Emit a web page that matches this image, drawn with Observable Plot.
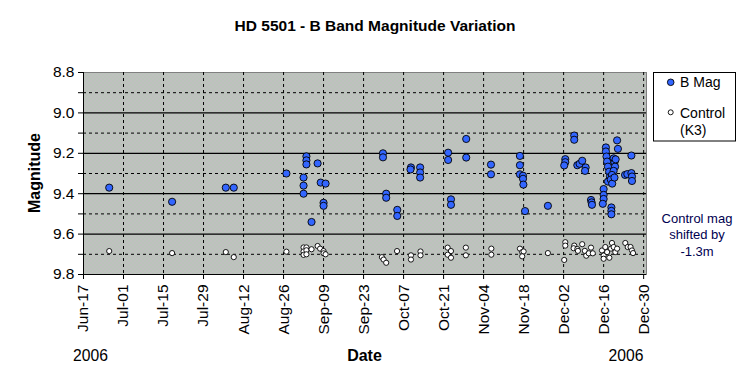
<!DOCTYPE html>
<html>
<head>
<meta charset="utf-8">
<script src="https://cdn.jsdelivr.net/npm/d3@7"></script>
<script src="https://cdn.jsdelivr.net/npm/@observablehq/plot@0.6"></script>
<style>
  html, body { margin: 0; padding: 0; background: white; }
  #chart { width: 750px; height: 384px; }
</style>
</head>
<body>
<div id="chart"></div>
<script>
// ---- Data ----
const titleText = "HD 5501 - B Band Magnitude Variation";
const xTicks = ["2006-06-17","2006-07-01","2006-07-15","2006-07-29","2006-08-12","2006-08-26","2006-09-09",
  "2006-09-23","2006-10-07","2006-10-21","2006-11-04","2006-11-18","2006-12-02","2006-12-16","2006-12-30"];
const xDomain = ["2006-06-17", "2006-12-31"];
const yTicks = [8.8, 8.9, 9.0, 9.1, 9.2, 9.3, 9.4, 9.5, 9.6, 9.7, 9.8];
const yLabelled = [8.8, 9.0, 9.2, 9.4, 9.6, 9.8];
const yMajorGrid = [9.0, 9.2, 9.4, 9.6];
const yMinorGrid = [8.9, 9.1, 9.3, 9.5, 9.7];

const bDates = ["2006-06-26T00","2006-07-18T00","2006-08-05T19","2006-08-08T14","2006-08-27T00",
  "2006-09-02T00","2006-09-02T00","2006-09-02T00","2006-09-03T00","2006-09-03T00","2006-09-03T00",
  "2006-09-04T19","2006-09-06T22","2006-09-08T00","2006-09-09T00","2006-09-09T00","2006-09-09T17",
  "2006-09-29T19","2006-09-29T19","2006-09-30T22","2006-09-30T22","2006-10-04T19","2006-10-04T19",
  "2006-10-09T14","2006-10-09T10","2006-10-12T19","2006-10-12T19","2006-10-12T19",
  "2006-10-22T14","2006-10-22T14","2006-10-23T14","2006-10-23T14","2006-10-28T22","2006-10-28T22",
  "2006-11-06T14","2006-11-06T14","2006-11-16T17","2006-11-16T17","2006-11-16T17",
  "2006-11-17T19","2006-11-17T19","2006-11-17T22","2006-11-18T12","2006-11-26T12",
  "2006-12-02T14","2006-12-02T14","2006-12-02T05","2006-12-05T17","2006-12-05T17","2006-12-06T19",
  "2006-12-07T14","2006-12-08T12","2006-12-09T17","2006-12-09T12","2006-12-11T14","2006-12-11T19","2006-12-11T22",
  "2006-12-16T00","2006-12-16T00","2006-12-16T00","2006-12-15T17","2006-12-16T19","2006-12-16T19",
  "2006-12-17T00","2006-12-17T05","2006-12-17T12","2006-12-17T22","2006-12-18T05","2006-12-17T12",
  "2006-12-18T17","2006-12-18T17","2006-12-18T17","2006-12-19T12","2006-12-19T19","2006-12-20T00",
  "2006-12-19T12","2006-12-18T22","2006-12-18T12","2006-12-19T00","2006-12-19T19","2006-12-20T05",
  "2006-12-20T17","2006-12-21T00","2006-12-23T12","2006-12-24T07","2006-12-25T17","2006-12-25T22",
  "2006-12-25T22","2006-12-25T17"];
const bMags = [9.37,9.44,9.37,9.37,9.30,
  9.32,9.36,9.40,9.215,9.235,9.255,
  9.54,9.25,9.345,9.445,9.46,9.35,
  9.20,9.22,9.40,9.42,9.48,9.51,
  9.27,9.28,9.27,9.295,9.32,
  9.197,9.233,9.428,9.455,9.129,9.221,
  9.256,9.304,9.213,9.259,9.304,
  9.311,9.326,9.355,9.486,9.46,
  9.229,9.244,9.260,9.112,9.133,9.259,
  9.252,9.237,9.270,9.287,9.431,9.443,9.455,
  9.377,9.406,9.426,9.450,9.171,9.191,
  9.216,9.241,9.266,9.291,9.316,9.340,
  9.468,9.485,9.502,9.225,9.245,9.266,
  9.287,9.307,9.330,9.350,9.320,9.230,
  9.136,9.178,9.307,9.303,9.298,9.315,
  9.337,9.211];

const cDates = ["2006-06-26T00","2006-07-18T00","2006-08-05T19","2006-08-08T14","2006-08-27T00",
  "2006-09-02T00","2006-09-02T00","2006-09-02T00","2006-09-03T00","2006-09-03T00","2006-09-03T00",
  "2006-09-04T19","2006-09-06T22","2006-09-07T19","2006-09-09T00","2006-09-09T00","2006-09-09T17",
  "2006-09-29T10","2006-09-30T00","2006-09-30T22","2006-10-04T17","2006-10-09T14","2006-10-09T14",
  "2006-10-12T22","2006-10-12T22","2006-10-22T10","2006-10-23T14","2006-10-22T10","2006-10-23T14",
  "2006-10-28T19","2006-10-28T19","2006-11-06T17","2006-11-06T17","2006-11-16T17","2006-11-17T12",
  "2006-11-18T00","2006-11-17T12","2006-11-26T12","2006-12-02T14","2006-12-02T14","2006-12-02T05",
  "2006-12-05T17","2006-12-05T12","2006-12-06T19","2006-12-07T00","2006-12-08T12","2006-12-09T10",
  "2006-12-09T22","2006-12-10T19","2006-12-11T14","2006-12-12T05","2006-12-15T10","2006-12-16T00",
  "2006-12-16T00","2006-12-16T14","2006-12-17T05","2006-12-18T00","2006-12-18T22","2006-12-18T14",
  "2006-12-19T12","2006-12-20T02","2006-12-20T17","2006-12-23T14","2006-12-24T10","2006-12-25T10",
  "2006-12-25T22","2006-12-26T07"];
const cMags = [9.684,9.694,9.689,9.714,9.687,
  9.666,9.686,9.703,9.666,9.680,9.700,
  9.675,9.659,9.672,9.684,9.695,9.700,
  9.714,9.726,9.742,9.684,9.705,9.726,
  9.686,9.705,9.667,9.684,9.702,9.717,
  9.667,9.705,9.672,9.702,9.672,9.689,
  9.686,9.710,9.694,9.640,9.657,9.728,
  9.657,9.670,9.674,9.683,9.650,9.683,
  9.707,9.695,9.667,9.695,9.681,9.706,
  9.722,9.664,9.689,9.717,9.644,9.672,
  9.664,9.689,9.672,9.644,9.664,9.664,
  9.681,9.694];

// ---- Build tables ----
const parseT = s => new Date(s + ":00Z");
const parseD = s => new Date(s + "T00:00Z");
const bData = bDates.map((d, i) => ({date: parseT(d), mag: bMags[i]}));
const cData = cDates.map((d, i) => ({date: parseT(d), mag: cMags[i]}));
const xTickDates = xTicks.map(parseD);
const fmt = d3.utcFormat("%b-%d");

const FONT = "'Liberation Sans', Arial, sans-serif";

const chart = Plot.plot({
  width: 750,
  height: 384,
  marginLeft: 83,
  marginRight: 104,
  marginTop: 72,
  marginBottom: 110,
  style: {fontFamily: FONT, fontSize: "15.5px", color: "black", background: "white", overflow: "visible"},
  x: {type: "utc", domain: xDomain.map(parseD)},
  y: {domain: [8.8, 9.8], reverse: true},
  marks: [
    Plot.frame({fill: "url(#xlpat)", stroke: "#808080"}),
    Plot.ruleY(yMinorGrid, {stroke: "black", strokeDasharray: "3,3"}),
    Plot.ruleY(yMajorGrid, {stroke: "black", strokeWidth: 1.2}),
    Plot.ruleX(xTickDates.slice(1), {stroke: "black", strokeDasharray: "3,3"}),
    Plot.axisY({ticks: yTicks, tickSize: 5, tickPadding: 4, label: null,
      tickFormat: v => yLabelled.some(t => Math.abs(t - v) < 1e-9) ? v.toFixed(1) : ""}),
    Plot.axisX({ticks: xTickDates, tickSize: 5, tickPadding: 5, tickRotate: -90, label: null,
      tickFormat: fmt}),
    Plot.ruleX([parseD(xDomain[0])], {stroke: "black"}),
    Plot.ruleY([9.8], {stroke: "black"}),
    Plot.dot(cData, {x: "date", y: "mag", r: 2.6, fill: "white", stroke: "black", strokeWidth: 0.9}),
    Plot.dot(bData, {x: "date", y: "mag", r: 3.6, fill: "#3366ff", stroke: "black", strokeWidth: 0.9})
  ]
});

document.getElementById("chart").appendChild(chart);
const svg = d3.select(chart);

// Excel-like dotted pattern for the plot area
const defs = svg.insert("defs", ":first-child");
const pat = defs.append("pattern").attr("id", "xlpat").attr("patternUnits", "userSpaceOnUse")
  .attr("width", 4).attr("height", 4);
pat.append("rect").attr("width", 4).attr("height", 4).attr("fill", "#c0c0c0");
pat.append("rect").attr("x", 0).attr("y", 0).attr("width", 1).attr("height", 1).attr("fill", "#a8d0a8");
pat.append("rect").attr("x", 2).attr("y", 2).attr("width", 1).attr("height", 1).attr("fill", "#a8d0a8");

function addText(x, y, t, opts = {}) {
  return svg.append("text").attr("x", x).attr("y", y)
    .attr("text-anchor", opts.anchor || "start")
    .attr("font-family", FONT)
    .attr("font-size", opts.size || 15.5)
    .attr("font-weight", opts.weight || "normal")
    .attr("fill", opts.fill || "black")
    .text(t);
}

// Title
addText(375, 31, titleText, {anchor: "middle", weight: "bold", size: 15.5});
// Axis titles
svg.append("text").attr("transform", "translate(40,173) rotate(-90)").attr("text-anchor", "middle")
  .attr("font-family", FONT).attr("font-size", 16).attr("font-weight", "bold").text("Magnitude");
addText(364.5, 361, "Date", {anchor: "middle", weight: "bold", size: 16});
addText(73, 361, "2006", {size: 15.7});
addText(643.5, 361, "2006", {anchor: "end", size: 15.7});

// Legend
svg.append("rect").attr("x", 653.5).attr("y", 72.5).attr("width", 82).attr("height", 68.5)
  .attr("fill", "white").attr("stroke", "black");
svg.append("circle").attr("cx", 670.7).attr("cy", 82.3).attr("r", 3.3).attr("fill", "#3366ff").attr("stroke", "black").attr("stroke-width", 0.9);
addText(680, 87, "B Mag", {size: 14});
svg.append("circle").attr("cx", 670.7).attr("cy", 112.3).attr("r", 2.5).attr("fill", "white").attr("stroke", "black").attr("stroke-width", 0.9);
addText(680, 117.5, "Control", {size: 14});
addText(680, 135, "(K3)", {size: 14});

// Annotation
const ann = ["Control mag", "shifted by", "-1.3m"];
ann.forEach((t, i) => addText(697, 222.5 + i * 16.5, t, {anchor: "middle", size: 13, fill: "#000050"}));
</script>
</body>
</html>
